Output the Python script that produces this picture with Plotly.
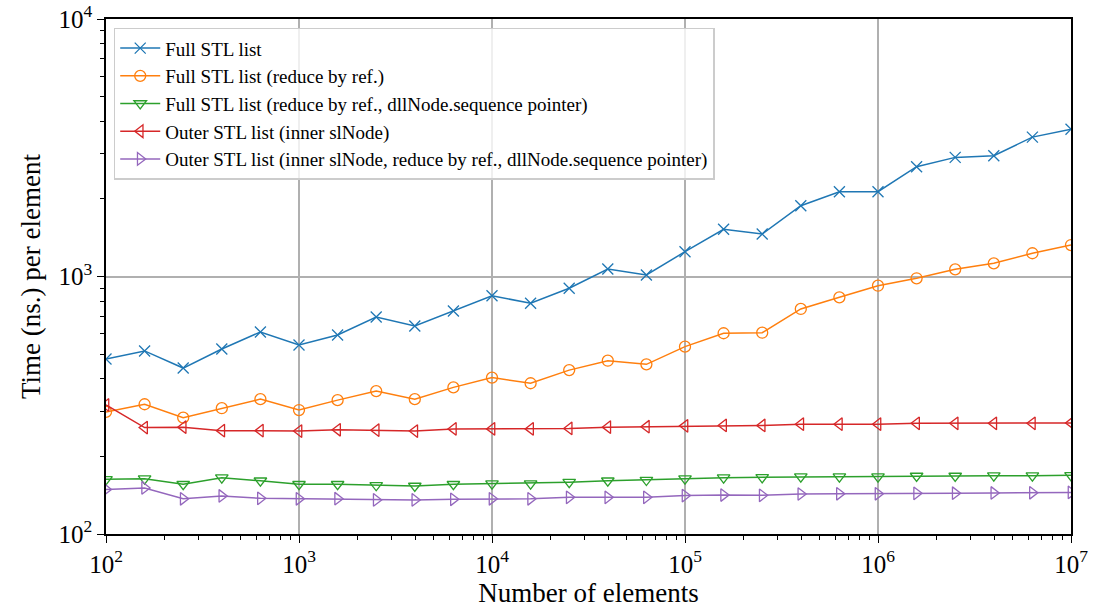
import plotly.graph_objects as go

x_exp = [2 + 0.2 * i for i in range(26)]
n_elements = [10 ** e for e in x_exp]

full_stl = [478, 514, 441, 523, 609, 542, 593, 696, 642, 735, 842, 787, 900, 1069, 1014,
            1248, 1525, 1462, 1884, 2134, 2134, 2669, 2901, 2945, 3478, 3733]
full_ref = [298, 319, 283, 308, 334, 303, 331, 359, 334, 371, 405, 385, 433, 471, 456,
            534, 602, 605, 748, 830, 921, 984, 1066, 1125, 1231, 1325]
full_ref_ptr = [163, 164, 156, 165.5, 161, 156, 156, 154.6, 153.6, 156, 157, 157, 159, 161, 162,
                164, 165.5, 166, 167, 167, 167, 168, 168, 168.5, 168.5, 169]
outer_sl = [317, 259, 260, 252, 252, 251, 254, 253, 251, 256, 256, 256, 257, 260, 261,
            263, 264, 264, 267, 267, 267, 269, 269, 269, 269, 270]
outer_sl_ref_ptr = [149, 151, 137, 140.5, 137.6, 137, 137.1, 135.6, 135.6, 136.4, 137, 137, 138.8,
                    138.8, 138.8, 141, 141.7, 141.3, 143, 143.3, 143.3, 143.9, 144, 144.3, 144.6, 145]

series = [
    ("Full STL list", full_stl, "#1f77b4", "x-thin-open"),
    ("Full STL list (reduce by ref.)", full_ref, "#ff7f0e", "circle-open"),
    ("Full STL list (reduce by ref., dllNode.sequence pointer)", full_ref_ptr, "#2ca02c", "triangle-down-open"),
    ("Outer STL list (inner slNode)", outer_sl, "#d62728", "triangle-left-open"),
    ("Outer STL list (inner slNode, reduce by ref., dllNode.sequence pointer)", outer_sl_ref_ptr, "#9467bd", "triangle-right-open"),
]

x_ticks = [1e2, 1e3, 1e4, 1e5, 1e6, 1e7]
x_ticktext = ["10<sup>2</sup>", "10<sup>3</sup>", "10<sup>4</sup>", "10<sup>5</sup>", "10<sup>6</sup>", "10<sup>7</sup>"]
y_ticks = [1e2, 1e3, 1e4]
y_ticktext = ["10<sup>2</sup>", "10<sup>3</sup>", "10<sup>4</sup>"]

x_minor = [m * 10 ** d for d in range(2, 7) for m in range(2, 10)]
y_minor = [m * 10 ** d for d in range(2, 4) for m in range(2, 10)]

fig = go.Figure()
for name, vals, color, sym in series:
    fig.add_trace(go.Scatter(
        x=n_elements, y=vals, name=name, mode="lines+markers",
        line=dict(color=color, width=1.5),
        marker=dict(symbol=sym, size=11, color=color, line=dict(color=color, width=1.3)),
    ))

font_family = "Liberation Serif, serif"
fig.update_layout(
    width=1094, height=615,
    margin=dict(l=106, r=23, t=19, b=81),
    paper_bgcolor="white", plot_bgcolor="white",
    font=dict(family=font_family, color="black", size=19),
    showlegend=True,
    legend=dict(x=0.008, y=0.983, xanchor="left", yanchor="top",
                bgcolor="rgba(255,255,255,0.8)", bordercolor="#cccccc", borderwidth=1.5,
                font=dict(size=19, family=font_family), tracegroupgap=0, itemwidth=40),
)
fig.update_xaxes(
    type="log", range=[2, 7], tickvals=x_ticks, ticktext=x_ticktext,
    showgrid=True, gridcolor="#b0b0b0", gridwidth=1.5,
    showline=True, linecolor="black", linewidth=1.5, mirror=True,
    ticks="outside", ticklen=7, tickwidth=1.2, tickcolor="black",
    tickfont=dict(size=25), zeroline=False, automargin=False,
    minor=dict(tickvals=x_minor, ticks="outside", ticklen=4, tickcolor="black", showgrid=False),
    title=dict(text="Number of elements", font=dict(size=27), standoff=4),
)
fig.update_yaxes(
    type="log", range=[2, 4], tickvals=y_ticks, ticktext=y_ticktext,
    showgrid=True, gridcolor="#b0b0b0", gridwidth=1.5,
    showline=True, linecolor="black", linewidth=1.5, mirror=True,
    ticks="outside", ticklen=7, tickwidth=1.2, tickcolor="black",
    tickfont=dict(size=25), zeroline=False, automargin=False,
    minor=dict(tickvals=y_minor, ticks="outside", ticklen=4, tickcolor="black", showgrid=False),
    title=dict(text="Time (ns.) per element", font=dict(size=27), standoff=10),
)

fig.write_html("out.html")
